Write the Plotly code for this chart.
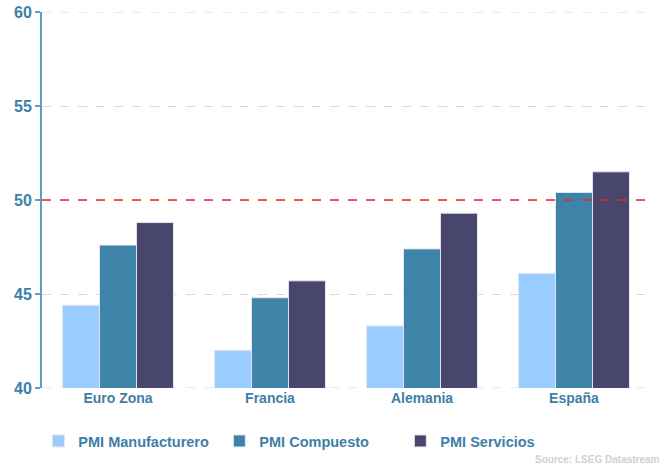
import plotly.graph_objects as go

categories = ["Euro Zona", "Francia", "Alemania", "España"]
pmi_manufacturero = [44.4, 42.0, 43.3, 46.1]
pmi_compuesto = [47.6, 44.8, 47.4, 50.4]
pmi_servicios = [48.8, 45.7, 49.3, 51.5]
y_ticks = [40, 45, 50, 55, 60]
threshold = 50

series = [
    ("PMI Manufacturero", pmi_manufacturero, "#99ccff"),
    ("PMI Compuesto", pmi_compuesto, "#3d84a8"),
    ("PMI Servicios", pmi_servicios, "#48466d"),
]

fig = go.Figure()
for name, vals, col in series:
    fig.add_trace(go.Bar(
        x=categories, y=vals, name=name,
        marker=dict(color=col, line=dict(color="#e4e4ee", width=1)),
    ))

axis_col = "#3d7fa6"
fig.update_layout(
    width=668, height=465,
    margin=dict(l=42, r=18, t=12, b=77, autoexpand=False),
    plot_bgcolor="white", paper_bgcolor="white",
    barmode="group", bargap=0.27, bargroupgap=0,
    font=dict(family="Liberation Sans, Arial, sans-serif", color=axis_col),
    showlegend=True,
    legend=dict(
        orientation="h", x=-0.006, xanchor="left", y=-0.141, yanchor="middle",
        font=dict(size=14.5, color=axis_col, family="Liberation Sans, Arial, sans-serif", weight="bold"),
        itemwidth=30, traceorder="normal", entrywidth=136,
    ),
    xaxis=dict(
        showgrid=False, showline=False, ticks="",
        tickfont=dict(size=14, color=axis_col, weight="bold"),
    ),
    yaxis=dict(
        range=[40, 60], tickvals=y_ticks,
        showgrid=True, gridcolor="#d9d9d9", griddash="dash", gridwidth=1,
        showline=True, linecolor="#5b9fc4", linewidth=2,
        ticks="outside", ticklen=5, tickcolor="#5b9fc4", tickwidth=2,
        tickfont=dict(size=16, color=axis_col, weight="bold"),
        zeroline=False,
    ),
)

for edge in (y_ticks[0], y_ticks[-1]):
    fig.add_shape(type="line", xref="paper", x0=0, x1=1, yref="y", y0=edge, y1=edge,
                  line=dict(color="#d9d9d9", width=1, dash="dash"), layer="below")

fig.add_shape(type="line", xref="paper", x0=0, x1=1, yref="y", y0=threshold, y1=threshold,
              line=dict(color="#e8262b", width=1.5, dash="dash"))

fig.add_annotation(text="Source: LSEG Datastream", xref="paper", yref="paper",
                   x=1.02, y=-0.19, xanchor="right", yanchor="middle", showarrow=False,
                   font=dict(size=10, color="#d0d0d0", weight="bold"))

fig.write_html("out.html", config={"displayModeBar": False},
               post_script="document.body.style.margin='0';")
